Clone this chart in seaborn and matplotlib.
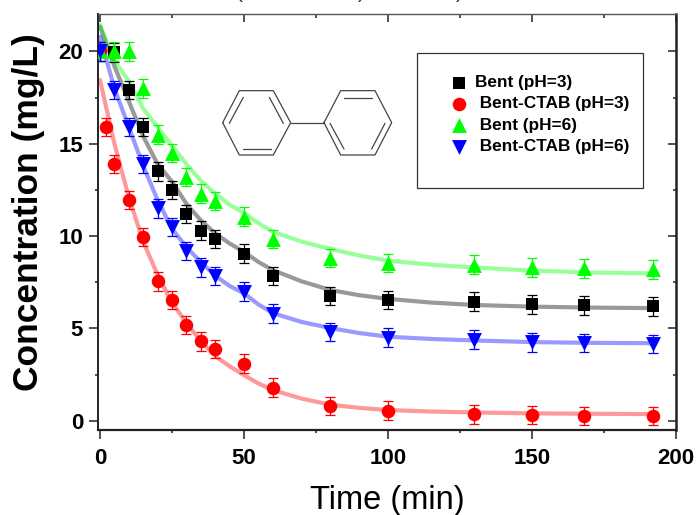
import numpy as np
import pandas as pd
import matplotlib
matplotlib.use("Agg")
import matplotlib.pyplot as plt
from matplotlib.lines import Line2D
from matplotlib.patches import Rectangle
from matplotlib.ticker import MultipleLocator
import seaborn as sns

W, H = 697, 515

t_bent3 = [0, 5, 10, 15, 20, 25, 30, 35, 40, 50, 60, 80, 100, 130, 150, 168, 192]
c_bent3 = [20, 19.95, 17.9, 15.9, 13.5, 12.5, 11.2, 10.3, 9.85, 9.05, 7.85, 6.75, 6.55, 6.45, 6.3, 6.25, 6.2]
t_ctab3 = [0, 2, 5, 10, 15, 20, 25, 30, 35, 40, 50, 60, 80, 100, 130, 150, 168, 192]
c_ctab3 = [20, 15.9, 13.9, 11.95, 9.95, 7.55, 6.55, 5.2, 4.3, 3.9, 3.1, 1.8, 0.8, 0.55, 0.35, 0.3, 0.25, 0.25]
t_bent6 = [0, 5, 10, 15, 20, 25, 30, 35, 40, 50, 60, 80, 100, 130, 150, 168, 192]
c_bent6 = [20, 20, 20, 18, 15.5, 14.5, 13.2, 12.3, 11.9, 11.05, 9.85, 8.8, 8.55, 8.45, 8.3, 8.25, 8.2]
t_ctab6 = [0, 5, 10, 15, 20, 25, 30, 35, 40, 50, 60, 80, 100, 130, 150, 168, 192]
c_ctab6 = [20, 17.9, 15.9, 13.9, 11.5, 10.5, 9.2, 8.3, 7.85, 7.0, 5.8, 4.8, 4.5, 4.4, 4.25, 4.2, 4.15]
err_all = 0.5

fit_t = [0, 5, 10, 15, 20, 25, 30, 35, 40, 45, 50, 55, 60, 70, 80, 90, 100, 115, 130, 150, 170, 192]
fit_bent3 = [21.35, 19.2, 17.3, 15.4, 13.9, 12.95, 11.75, 10.85, 10.15, 9.6, 9.15, 8.6, 8.16, 7.55, 7.08, 6.8, 6.6, 6.4, 6.27, 6.18, 6.13, 6.1]
fit_ctab3 = [18.45, 15.0, 12.1, 9.7, 7.9, 6.4, 5.3, 4.3, 3.5, 2.95, 2.47, 2.02, 1.66, 1.2, 0.87, 0.7, 0.58, 0.5, 0.45, 0.4, 0.38, 0.36]
fit_bent6 = [21.45, 19.5, 18.4, 16.9, 15.9, 14.9, 13.9, 13.0, 12.3, 11.7, 11.25, 10.7, 10.24, 9.7, 9.3, 8.95, 8.67, 8.45, 8.3, 8.13, 8.03, 7.98]
fit_ctab6 = [20.8, 18.0, 15.9, 13.8, 11.95, 10.4, 9.4, 8.6, 7.85, 7.3, 6.9, 6.3, 5.83, 5.35, 5.02, 4.75, 4.55, 4.43, 4.35, 4.26, 4.22, 4.2]

series_names = ["Bent (pH=3)", " Bent-CTAB (pH=3)", " Bent (pH=6)", " Bent-CTAB (pH=6)"]
colors = ["#000000", "#ff0000", "#00ff00", "#0000ff"]
markers = ["s", "o", "^", "v"]
msizes = [80, 95, 115, 115]

x_ticks = [0, 50, 100, 150, 200]
y_ticks = [0, 5, 10, 15, 20]

sns.set_theme(style="ticks")
plt.rcParams["font.family"] = ["Liberation Sans", "DejaVu Sans"]

fig = plt.figure(figsize=(W / 100, H / 100), dpi=100)
ax = fig.add_axes([98 / W, 1 - 430 / H, 578 / W, 415.5 / H])

fit_df = pd.DataFrame({
    "t": fit_t * 4,
    "c": fit_bent3 + fit_ctab3 + fit_bent6 + fit_ctab6,
    "s": sum([[n] * len(fit_t) for n in series_names], []),
})
sns.lineplot(data=fit_df, x="t", y="c", hue="s", palette=dict(zip(series_names, colors)),
             hue_order=series_names, ax=ax, lw=3.0, alpha=0.4, legend=False, zorder=2,
             errorbar=None, sort=False)

data = [(t_bent3, c_bent3), (t_ctab3, c_ctab3), (t_bent6, c_bent6), (t_ctab6, c_ctab6)]
for i, (t, c) in enumerate(data):
    ax.errorbar(t, c, yerr=err_all, fmt="none", ecolor=colors[i], elinewidth=0.9,
                capsize=3.4, capthick=0.9, zorder=3 + i)
    sns.scatterplot(x=t, y=c, ax=ax, marker=markers[i], s=msizes[i], color=colors[i],
                    edgecolor=colors[i], linewidth=0, zorder=3.5 + i, label=series_names[i])

ax.set_xlim(-0.7, 200)
ax.set_ylim(-0.5, 22)
ax.set_xticks(x_ticks)
ax.set_yticks(y_ticks)
ax.xaxis.set_minor_locator(MultipleLocator(25))
ax.yaxis.set_minor_locator(MultipleLocator(2.5))
ax.tick_params(axis="x", which="major", direction="out", length=6.2, width=1.1, color="#222222",
               top=False, pad=6.5)
ax.tick_params(axis="y", which="major", direction="out", length=6.2, width=1.1, color="#222222",
               right=False, pad=4.5)
ax.tick_params(which="minor", direction="out", length=2.5, width=1.1, color="#222222",
               top=False, right=False)
for lab in ax.get_xticklabels() + ax.get_yticklabels():
    lab.set_fontweight("bold")
    lab.set_fontsize(16)
    lab.set_color("black")

# mirrored inward ticks on top and right
axt = ax.secondary_xaxis("top")
axt.set_xticks(x_ticks)
axt.xaxis.set_minor_locator(MultipleLocator(25))
axt.tick_params(which="major", direction="in", length=6, width=1.1, color="#222222", labeltop=False)
axt.tick_params(which="minor", direction="in", length=3, width=1.1, color="#222222")
axr = ax.secondary_yaxis("right")
axr.set_yticks(y_ticks)
axr.yaxis.set_minor_locator(MultipleLocator(2.5))
axr.tick_params(which="major", direction="in", length=6, width=1.1, color="#222222", labelright=False)
axr.tick_params(which="minor", direction="in", length=2.5, width=1.1, color="#222222")

ax.spines["left"].set(linewidth=1.4, color="#222222")
ax.spines["bottom"].set(linewidth=1.6, color="#222222")
ax.spines["top"].set(linewidth=1.0, color="#555555")
ax.spines["right"].set(linewidth=1.8, color="#222222")
axt.spines["top"].set_visible(False)
axr.spines["right"].set_visible(False)

ax.set_xlabel("")
ax.set_ylabel("")
fig.text(387 / W, 1 - 500 / H, "Time (min)", fontsize=23.5, ha="center", va="center", color="black")
fig.text(29 / W, 1 - 212 / H, "Concentration (mg/L)", fontsize=25.5, fontweight="bold",
         rotation=90, ha="center", va="center", color="black")

for px in [239, 361, 459]:
    fig.text(px / W, 1 - (-8) / H, "(" if px == 239 else ")", fontsize=15, ha="center", va="center",
             color="#333333", clip_on=False)

# legend box
fig.add_artist(Rectangle((417 / W, 1 - 188 / H), 226 / W, 135 / H, transform=fig.transFigure,
                         fill=False, edgecolor="#333333", linewidth=0.9, zorder=5))
leg = ax.legend(loc="upper left", bbox_to_anchor=(450 / W, 1 - 75 / H), bbox_transform=fig.transFigure,
                frameon=False, prop={"weight": "bold", "size": 12.4}, labelspacing=0.37,
                handletextpad=0.45, handlelength=1.0, borderpad=0, borderaxespad=0, scatterpoints=1,
                markerscale=1.0, labelcolor="black")

# biphenyl sketch, outlined in reference pixel coordinates
def px_line(pts, lw=0.9):
    xs = [200 + p[0] / 3 for p in pts]
    ys = [p[1] / 3 for p in pts]
    fig.add_artist(Line2D([x / W for x in xs], [1 - y / H for y in ys], color="#444444",
                          linewidth=lw, transform=fig.transFigure, zorder=5))

px_line([(68, 368), (118, 272), (220, 272), (272, 368), (220, 465), (118, 465), (68, 368)])
px_line([(372, 368), (422, 272), (525, 272), (575, 368), (525, 465), (422, 465), (372, 368)])
px_line([(272, 368), (372, 368)])
for seg in [[(130, 292), (88, 370)], [(208, 292), (250, 370)], [(130, 447), (212, 447)],
            [(432, 293), (515, 293)], [(390, 370), (432, 447)], [(555, 370), (515, 447)]]:
    px_line(seg)

fig.savefig("out.png", dpi=100)
